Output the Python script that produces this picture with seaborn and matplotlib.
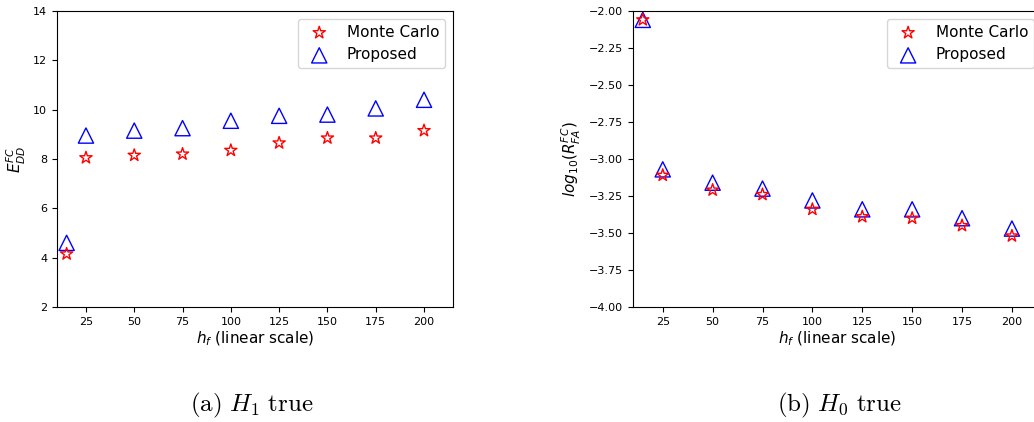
import matplotlib
matplotlib.use("Agg")
import matplotlib.pyplot as plt
import seaborn as sns
import pandas as pd

h_f = [15, 25, 50, 75, 100, 125, 150, 175, 200]
xticks = [25, 50, 75, 100, 125, 150, 175, 200]

edd_mc = [4.15, 8.05, 8.15, 8.2, 8.35, 8.65, 8.85, 8.85, 9.15]
edd_prop = [4.6, 8.95, 9.15, 9.25, 9.55, 9.75, 9.8, 10.05, 10.4]

rfa_mc = [-2.06, -3.11, -3.21, -3.24, -3.34, -3.39, -3.40, -3.45, -3.52]
rfa_prop = [-2.06, -3.07, -3.16, -3.20, -3.28, -3.34, -3.34, -3.40, -3.47]

series_names = ["Monte Carlo", "Proposed"]
captions = [r"$\mathrm{(a)}\ H_1\ \mathrm{true}$", r"$\mathrm{(b)}\ H_0\ \mathrm{true}$"]

fig = plt.figure(figsize=(10.34, 4.22), dpi=100)
ax1 = fig.add_axes([0.0551, 0.2725, 0.383, 0.7015])
ax2 = fig.add_axes([0.612, 0.2725, 0.3956, 0.7015])

def draw(ax, mc, prop, ylim, yticks, ylabel):
    df_mc = pd.DataFrame({"x": h_f, "y": mc})
    df_pr = pd.DataFrame({"x": h_f, "y": prop})
    sns.scatterplot(data=df_mc, x="x", y="y", ax=ax, marker="*", s=85,
                    color="red", facecolors="none", edgecolor="red",
                    linewidth=1.0, label=series_names[0], zorder=3)
    sns.scatterplot(data=df_pr, x="x", y="y", ax=ax, marker="^", s=120,
                    color="blue", facecolors="none", edgecolor="blue",
                    linewidth=1.0, label=series_names[1], zorder=2)
    ax.set_xlim(10, 215)
    ax.set_ylim(*ylim)
    ax.set_xticks(xticks)
    ax.set_yticks(yticks)
    ax.tick_params(labelsize=8)
    ax.set_xlabel(r"$h_f$ (linear scale)", fontsize=11, labelpad=2)
    ax.set_ylabel(ylabel, fontsize=11)
    ax.legend(loc="upper right", fontsize=11, frameon=True)

draw(ax1, edd_mc, edd_prop, (2, 14), [2, 4, 6, 8, 10, 12, 14], r"$E_{DD}^{FC}$")
draw(ax2, rfa_mc, rfa_prop, (-4, -2),
     [-4.0, -3.75, -3.5, -3.25, -3.0, -2.75, -2.5, -2.25, -2.0],
     r"$log_{10}(R_{FA}^{FC})$")

fig.text(0.243, 0.04, captions[0], ha="center", va="center", fontsize=18,
         math_fontfamily="cm")
fig.text(0.812, 0.04, captions[1], ha="center", va="center", fontsize=18,
         math_fontfamily="cm")

fig.savefig("out.png", dpi=100)
